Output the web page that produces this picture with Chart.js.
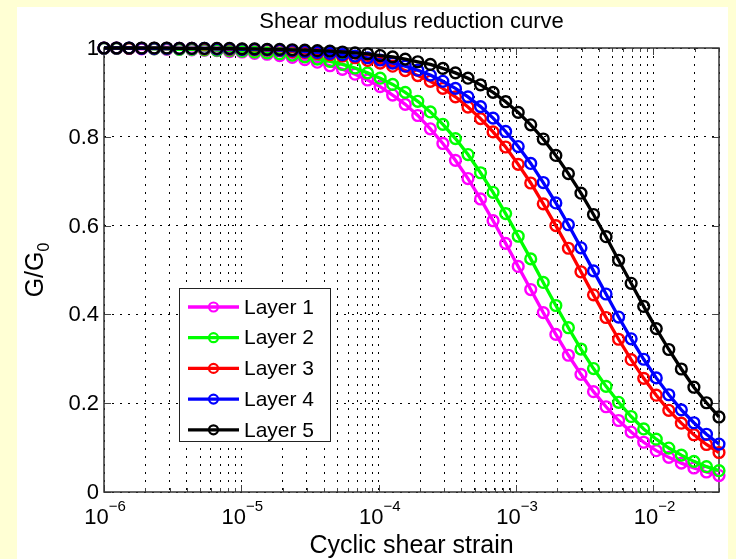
<!DOCTYPE html>
<html>
<head>
<meta charset="utf-8">
<title>Shear modulus reduction curve</title>
<script src="https://cdn.jsdelivr.net/npm/chart.js@4.4.1/dist/chart.umd.min.js"></script>
<style>
    html, body { margin: 0; padding: 0; background: #ffffd4; }
    #wrap { width: 736px; height: 559px; }
</style>
</head>
<body>
<div id="wrap"><canvas id="chart" width="736" height="559"></canvas></div>
<script>
// Cyclic shear strain (log spaced, 50 points)
var strain = [
    1.000e-6, 1.234e-6, 1.523e-6, 1.880e-6, 2.320e-6, 2.863e-6, 3.534e-6, 4.361e-6, 5.383e-6, 6.642e-6,
    8.198e-6, 1.012e-5, 1.249e-5, 1.541e-5, 1.902e-5, 2.347e-5, 2.897e-5, 3.575e-5, 4.412e-5, 5.445e-5,
    6.720e-5, 8.295e-5, 1.024e-4, 1.263e-4, 1.559e-4, 1.924e-4, 2.375e-4, 2.931e-4, 3.617e-4, 4.464e-4,
    5.509e-4, 6.800e-4, 8.392e-4, 1.036e-3, 1.278e-3, 1.577e-3, 1.947e-3, 2.403e-3, 2.966e-3, 3.660e-3,
    4.517e-3, 5.575e-3, 6.880e-3, 8.492e-3, 1.048e-2, 1.293e-2, 1.596e-2, 1.970e-2, 2.431e-2, 3.000e-2
];

// G/G0 per layer
var layer1 = [
    0.999, 0.999, 0.999, 0.998, 0.998, 0.997, 0.997, 0.996, 0.995, 0.994,
    0.992, 0.991, 0.988, 0.986, 0.983, 0.979, 0.974, 0.968, 0.960, 0.952,
    0.941, 0.928, 0.913, 0.894, 0.873, 0.848, 0.818, 0.785, 0.747, 0.706,
    0.660, 0.611, 0.560, 0.508, 0.456, 0.404, 0.355, 0.308, 0.265, 0.226,
    0.192, 0.161, 0.135, 0.112, 0.093, 0.078, 0.065, 0.054, 0.045, 0.037
];
var layer2 = [
    0.999, 0.999, 0.999, 0.999, 0.998, 0.998, 0.997, 0.997, 0.996, 0.995,
    0.994, 0.993, 0.991, 0.989, 0.987, 0.984, 0.980, 0.975, 0.970, 0.963,
    0.955, 0.944, 0.932, 0.918, 0.900, 0.880, 0.856, 0.828, 0.796, 0.760,
    0.719, 0.675, 0.627, 0.576, 0.525, 0.472, 0.420, 0.370, 0.322, 0.278,
    0.238, 0.202, 0.170, 0.142, 0.119, 0.099, 0.083, 0.069, 0.057, 0.048
];
var layer3 = [
    1.000, 1.000, 0.999, 0.999, 0.999, 0.999, 0.999, 0.999, 0.998, 0.998,
    0.997, 0.997, 0.996, 0.995, 0.994, 0.992, 0.990, 0.988, 0.985, 0.982,
    0.978, 0.972, 0.966, 0.959, 0.949, 0.938, 0.925, 0.909, 0.890, 0.867,
    0.841, 0.811, 0.777, 0.738, 0.696, 0.649, 0.600, 0.549, 0.496, 0.444,
    0.393, 0.344, 0.298, 0.256, 0.218, 0.184, 0.155, 0.129, 0.107, 0.089
];
var layer4 = [
    1.000, 1.000, 1.000, 0.999, 0.999, 0.999, 0.999, 0.999, 0.999, 0.998,
    0.998, 0.997, 0.997, 0.996, 0.995, 0.994, 0.992, 0.990, 0.988, 0.985,
    0.982, 0.978, 0.973, 0.966, 0.959, 0.950, 0.939, 0.925, 0.909, 0.890,
    0.868, 0.842, 0.812, 0.778, 0.740, 0.697, 0.651, 0.602, 0.550, 0.498,
    0.446, 0.394, 0.345, 0.299, 0.257, 0.219, 0.185, 0.156, 0.130, 0.108
];
var layer5 = [
    1.000, 1.000, 1.000, 1.000, 1.000, 1.000, 0.999, 0.999, 0.999, 0.999,
    0.999, 0.998, 0.998, 0.997, 0.997, 0.996, 0.995, 0.994, 0.993, 0.991,
    0.989, 0.987, 0.983, 0.980, 0.975, 0.969, 0.963, 0.954, 0.944, 0.932,
    0.917, 0.900, 0.879, 0.855, 0.827, 0.795, 0.758, 0.717, 0.673, 0.625,
    0.575, 0.522, 0.470, 0.418, 0.368, 0.321, 0.277, 0.236, 0.201, 0.169
];

var layerNames = ['Layer 1', 'Layer 2', 'Layer 3', 'Layer 4', 'Layer 5'];
var layerColors = ['#ff00ff', '#00ff00', '#ff0000', '#0000ff', '#000000'];

// Axis ticks
var xMajor = [1e-6, 1e-5, 1e-4, 1e-3, 1e-2];
var xExponents = ['\u22126', '\u22125', '\u22124', '\u22123', '\u22122'];
var xMin = 1e-6;
var xMax = 0.03;
var yTicks = [0, 0.2, 0.4, 0.6, 0.8, 1];
var yLabels = ['0', '0.2', '0.4', '0.6', '0.8', '1'];

var FONT = '"Liberation Sans", Arial, Helvetica, sans-serif';

// minor log ticks 2..9 in each decade
var xGrid = [];
xMajor.forEach(function (d) {
    for (var m = 1; m <= 9; m++) {
        var v = d * m;
        if (v <= xMax * 1.0001) xGrid.push({ value: v, major: m === 1 });
    }
});

function makeSet(i, values) {
    return {
        label: layerNames[i],
        data: strain.map(function (s, k) { return { x: s, y: values[k] }; }),
        borderColor: layerColors[i],
        backgroundColor: layerColors[i],
        borderWidth: 3.3,
        pointRadius: 5.4,
        pointHoverRadius: 5.4,
        pointBorderWidth: 2.4,
        pointBorderColor: layerColors[i],
        pointBackgroundColor: 'rgba(0,0,0,0)',
        tension: 0,
        clip: false,
        order: 4 - i
    };
}

var figurePlugin = {
    id: 'figure',
    beforeDraw: function (chart) {
        var ctx = chart.ctx;
        ctx.save();
        ctx.fillStyle = '#ffffff';
        ctx.fillRect(17, 7, 711, 552);
        ctx.restore();
    },
    beforeDatasetsDraw: function (chart) {
        var ctx = chart.ctx;
        var a = chart.chartArea;
        var xs = chart.scales.x;
        var ys = chart.scales.y;
        ctx.save();

        // tick marks (inward)
        ctx.strokeStyle = '#444';
        ctx.lineWidth = 1;
        ctx.beginPath();
        xGrid.forEach(function (t) {
            var px = Math.round(xs.getPixelForValue(t.value)) + 0.5;
            var len = t.major ? 7 : 4;
            ctx.moveTo(px, a.bottom); ctx.lineTo(px, a.bottom - len);
            ctx.moveTo(px, a.top); ctx.lineTo(px, a.top + len);
        });
        yTicks.forEach(function (v) {
            var py = Math.round(ys.getPixelForValue(v)) + 0.5;
            ctx.moveTo(a.left, py); ctx.lineTo(a.left + 7, py);
            ctx.moveTo(a.right, py); ctx.lineTo(a.right - 7, py);
        });
        ctx.stroke();

        // axes box
        ctx.strokeStyle = '#333';
        ctx.lineWidth = 1.5;
        ctx.strokeRect(a.left, a.top, a.right - a.left, a.bottom - a.top);

        // y tick labels
        ctx.fillStyle = '#000';
        ctx.font = '22px ' + FONT;
        ctx.textAlign = 'right';
        ctx.textBaseline = 'middle';
        yTicks.forEach(function (v, i) {
            ctx.fillText(yLabels[i], a.left - 5, ys.getPixelForValue(v) + 1);
        });

        // x tick labels 10^n
        ctx.textAlign = 'left';
        ctx.textBaseline = 'alphabetic';
        xMajor.forEach(function (v, i) {
            var px = xs.getPixelForValue(v);
            ctx.font = '22px ' + FONT;
            var w1 = ctx.measureText('10').width;
            ctx.font = '15px ' + FONT;
            var w2 = ctx.measureText(xExponents[i]).width;
            var x0 = px - (w1 + w2) / 2 + 1;
            ctx.font = '22px ' + FONT;
            ctx.fillText('10', x0, 524);
            ctx.font = '15px ' + FONT;
            ctx.fillText(xExponents[i], x0 + w1, 511);
        });

        // title and axis titles
        var cx = (a.left + a.right) / 2;
        ctx.textAlign = 'center';
        ctx.font = '22px ' + FONT;
        ctx.fillText('Shear modulus reduction curve', cx, 28);
        ctx.font = '25px ' + FONT;
        ctx.fillText('Cyclic shear strain', cx, 553);

        ctx.translate(43, (a.top + a.bottom) / 2);
        ctx.rotate(-Math.PI / 2);
        ctx.font = '25px ' + FONT;
        var g1 = ctx.measureText('G/G').width;
        ctx.font = '16px ' + FONT;
        var g2 = ctx.measureText('0').width;
        ctx.textAlign = 'left';
        ctx.font = '25px ' + FONT;
        ctx.fillText('G/G', -(g1 + g2) / 2, 0);
        ctx.font = '16px ' + FONT;
        ctx.fillText('0', -(g1 + g2) / 2 + g1, 6);
        ctx.restore();
    },
    afterDatasetsDraw: function (chart) {
        // legend box
        var ctx = chart.ctx;
        ctx.save();
        ctx.fillStyle = '#ffffff';
        ctx.fillRect(179, 288, 151, 153);
        ctx.strokeStyle = '#222';
        ctx.lineWidth = 1;
        ctx.strokeRect(179.5, 288.5, 151, 153);
        ctx.font = '21px ' + FONT;
        ctx.textAlign = 'left';
        ctx.textBaseline = 'middle';
        layerNames.forEach(function (name, i) {
            var y = 307 + i * 30.7;
            ctx.strokeStyle = layerColors[i];
            ctx.lineWidth = 3.3;
            ctx.beginPath();
            ctx.moveTo(188, y); ctx.lineTo(239, y);
            ctx.stroke();
            ctx.lineWidth = 2.2;
            ctx.beginPath();
            ctx.arc(213.5, y, 4.5, 0, Math.PI * 2);
            ctx.stroke();
            ctx.fillStyle = '#000';
            ctx.fillText(name, 244, y + 1);
        });
        ctx.restore();
    }
};

new Chart(document.getElementById('chart'), {
    type: 'line',
    data: {
        datasets: [
            makeSet(0, layer1),
            makeSet(1, layer2),
            makeSet(2, layer3),
            makeSet(3, layer4),
            makeSet(4, layer5)
        ]
    },
    options: {
        responsive: false,
        animation: false,
        events: [],
        layout: {
            padding: { left: 104, right: 17, top: 48, bottom: 67 }
        },
        plugins: {
            legend: { display: false },
            tooltip: { enabled: false }
        },
        scales: {
            x: {
                type: 'logarithmic',
                min: xMin,
                max: xMax,
                afterBuildTicks: function (scale) {
                    scale.ticks = xGrid.map(function (t) { return { value: t.value }; });
                },
                afterFit: function (scale) { scale.height = 0; },
                ticks: { display: false },
                grid: {
                    color: '#000',
                    lineWidth: 1,
                    drawTicks: false
                },
                border: { display: false, dash: [2, 6] }
            },
            y: {
                type: 'linear',
                min: 0,
                max: 1,
                afterBuildTicks: function (scale) {
                    scale.ticks = yTicks.map(function (v) { return { value: v }; });
                },
                afterFit: function (scale) { scale.width = 0; },
                ticks: { display: false },
                grid: {
                    color: '#000',
                    lineWidth: 1,
                    drawTicks: false
                },
                border: { display: false, dash: [2, 6] }
            }
        }
    },
    plugins: [figurePlugin]
});
</script>
</body>
</html>
